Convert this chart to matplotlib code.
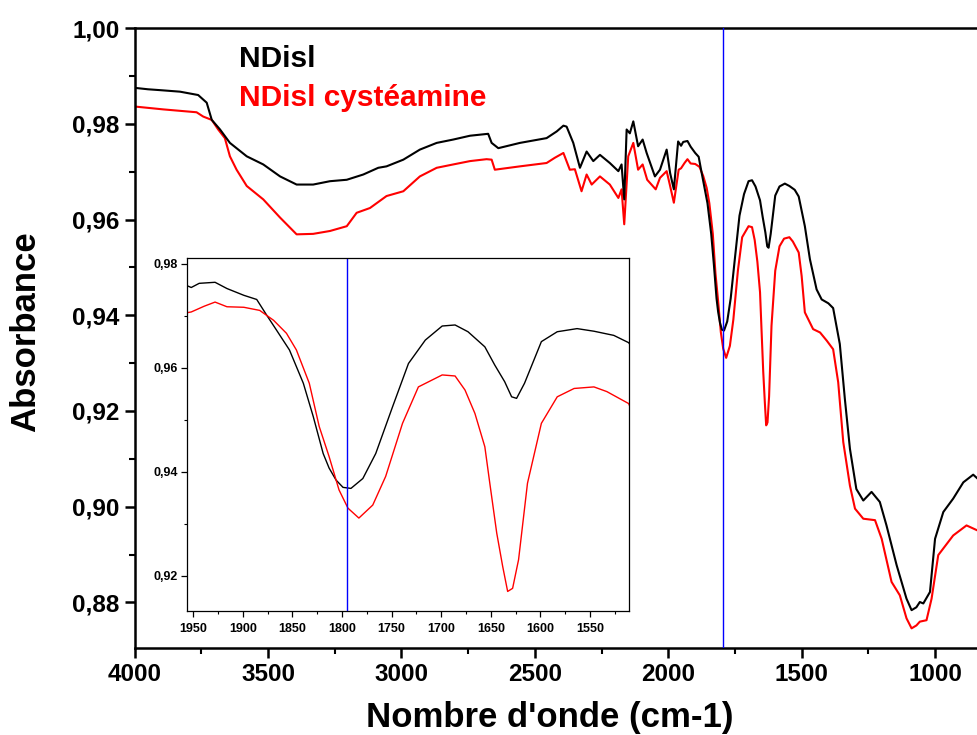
import matplotlib
matplotlib.use("Agg")
import matplotlib.pyplot as plt
from matplotlib.ticker import MultipleLocator, FuncFormatter
import numpy as np

# ---- data ----
wn_black = [4000, 3950, 3900, 3830, 3762, 3730, 3711, 3680, 3643, 3580, 3518, 3455,
            3393, 3331, 3268, 3205, 3143, 3087, 3056, 2993, 2931, 2868, 2806, 2743,
            2675, 2662, 2637, 2556, 2456, 2418, 2393, 2381, 2356, 2331, 2306, 2281,
            2256, 2219, 2187, 2175, 2165, 2156, 2144, 2131, 2113, 2096, 2081, 2050,
            2031, 2006, 1993, 1979, 1963,
            1952, 1944, 1928, 1916, 1899, 1886, 1876, 1866, 1853, 1839, 1829, 1819,
            1813, 1806, 1799, 1791, 1779, 1766, 1749, 1733, 1716, 1699, 1686, 1673,
            1656, 1646, 1636, 1629, 1624, 1616, 1599, 1583, 1563, 1546, 1526, 1511,
            1488, 1469, 1444, 1425, 1400, 1382, 1357, 1338, 1319, 1295, 1269, 1238,
            1207, 1182, 1144, 1107, 1088, 1070, 1057, 1044, 1019, 1000, 969, 932, 894,
            857, 839]
ab_black = [0.9875, 0.9872, 0.9870, 0.9867, 0.9860, 0.9844, 0.9808, 0.9788, 0.9760,
            0.9732, 0.9715, 0.9690, 0.9673, 0.9673, 0.9680, 0.9683, 0.9694, 0.9708,
            0.9711, 0.9725, 0.9746, 0.9760, 0.9767, 0.9775, 0.9779, 0.9760, 0.9749,
            0.9760, 0.9770, 0.9784, 0.9796, 0.9794, 0.9760, 0.9708, 0.9742, 0.9722,
            0.9735, 0.9718, 0.9701, 0.9715, 0.9642, 0.9788, 0.9780, 0.9805, 0.9753,
            0.9767, 0.9739, 0.9690, 0.9704, 0.9746, 0.9697, 0.9663, 0.9763,
            0.9754, 0.9762, 0.9764, 0.9752, 0.9739, 0.9731, 0.9701, 0.9672, 0.9634,
            0.9570, 0.9506, 0.9435, 0.9407, 0.9384, 0.9370, 0.9368, 0.9387, 0.9435,
            0.9525, 0.9608, 0.9653, 0.9680, 0.9682, 0.9669, 0.9640, 0.9605, 0.9573,
            0.9544, 0.9541, 0.9570, 0.9650, 0.9669, 0.9675, 0.9670, 0.9662, 0.9648,
            0.9586, 0.9517, 0.9454, 0.9433, 0.9425, 0.9415, 0.9340, 0.9225, 0.9121,
            0.9037, 0.9013, 0.9031, 0.9010, 0.8961, 0.8878, 0.8808, 0.8784, 0.8790,
            0.8801, 0.8798, 0.8822, 0.8933, 0.8989, 0.9017, 0.9051, 0.9067, 0.9058]

wn_red = [4000, 3893, 3768, 3743, 3711, 3687, 3662, 3643, 3618, 3580, 3518, 3455,
          3393, 3331, 3268, 3205, 3168, 3118, 3056, 2993, 2931, 2868, 2806, 2743,
          2681, 2662, 2650, 2556, 2456, 2425, 2393, 2369, 2350, 2325, 2306, 2287,
          2256, 2219, 2187, 2175, 2165, 2150, 2131, 2113, 2096, 2079, 2047, 2031,
          2006, 1993, 1979, 1961,
          1952, 1939, 1928, 1916, 1899, 1883, 1869, 1856, 1846, 1833, 1823, 1813,
          1803, 1794, 1783, 1769, 1756, 1739, 1723, 1699, 1686, 1676, 1666, 1656,
          1651, 1644, 1638, 1633, 1628, 1622, 1613, 1599, 1583, 1566, 1546, 1533,
          1511, 1500, 1488, 1457, 1431, 1406, 1382, 1363, 1344, 1319, 1300, 1269,
          1225, 1200, 1163, 1132, 1107, 1088, 1070, 1057, 1032, 1013, 988, 932, 882,
          839]
ab_red = [0.9836, 0.9830, 0.9824, 0.9815, 0.9808, 0.9788, 0.9770, 0.9732, 0.9704,
          0.9670, 0.9642, 0.9604, 0.9569, 0.9570, 0.9576, 0.9586, 0.9614, 0.9624,
          0.9649, 0.9659, 0.9690, 0.9708, 0.9715, 0.9722, 0.9726, 0.9725, 0.9704,
          0.9711, 0.9718, 0.9729, 0.9739, 0.9704, 0.9705, 0.9659, 0.9694, 0.9673,
          0.9690, 0.9673, 0.9645, 0.9663, 0.9590, 0.9732, 0.9760, 0.9704, 0.9715,
          0.9683, 0.9663, 0.9687, 0.9701, 0.9670, 0.9635, 0.9704,
          0.9707, 0.9718, 0.9726, 0.9717, 0.9716, 0.9710, 0.9691, 0.9666, 0.9634,
          0.9570, 0.9487, 0.9429, 0.9365, 0.9330, 0.9311, 0.9336, 0.9391, 0.9493,
          0.9563, 0.9586, 0.9584, 0.9557, 0.9512, 0.9448, 0.9378, 0.9282, 0.9218,
          0.9170, 0.9176, 0.9231, 0.9378, 0.9493, 0.9544, 0.9560, 0.9563, 0.9554,
          0.9531, 0.9482, 0.9406, 0.9371, 0.9364, 0.9347, 0.9329, 0.9260, 0.9135,
          0.9044, 0.8996, 0.8975, 0.8972, 0.8933, 0.8843, 0.8815, 0.8767, 0.8746,
          0.8752, 0.8760, 0.8763, 0.8808, 0.8899, 0.8940, 0.8961, 0.8950]

series_labels = ["NDisl", "NDisl cystéamine"]
marker_wn = 1795

FONT = "Liberation Sans"
plt.rcParams["font.family"] = [FONT, "DejaVu Sans"]

comma = FuncFormatter(lambda v, p: f"{v:.2f}".replace(".", ","))

fig = plt.figure(figsize=(9.78, 7.35), dpi=100)
ax = fig.add_axes([0.1377, 0.1184, 0.8623, 0.8435])
ax.plot(wn_black, ab_black, color="black", lw=1.5, zorder=3)
ax.plot(wn_red, ab_red, color="#ff0000", lw=1.5, zorder=2)
ax.axvline(marker_wn, color="#0000ff", lw=1.0, zorder=4)
ax.set_xlim(4000, 839)
ax.set_ylim(0.8705, 1.0)
ax.xaxis.set_major_locator(MultipleLocator(500))
ax.xaxis.set_minor_locator(MultipleLocator(250))
ax.yaxis.set_major_locator(MultipleLocator(0.02))
ax.yaxis.set_minor_locator(MultipleLocator(0.01))
ax.yaxis.set_major_formatter(comma)
ax.spines["right"].set_visible(False)
for s in ["top", "left", "bottom"]:
    ax.spines[s].set_linewidth(1.8)
ax.tick_params(which="major", direction="out", length=7, width=1.8,
               labelsize=17.5, pad=4)
ax.tick_params(which="minor", direction="out", length=4.5, width=1.5)
ax.tick_params(top=False, right=False, which="both")
for lab in ax.get_xticklabels() + ax.get_yticklabels():
    lab.set_fontweight("bold")
ax.set_xlabel("Nombre d'onde (cm-1)", fontsize=25, fontweight="bold")
ax.xaxis.set_label_coords(0.4925, -0.086)
ax.set_ylabel("Absorbance", fontsize=25, fontweight="bold")
ax.yaxis.set_label_coords(-0.110, 0.5097)

fig.text(239 / 978, 1 - 67 / 735, series_labels[0], color="black",
         fontsize=21.5, fontweight="bold", va="baseline", ha="left")
fig.text(239 / 978, 1 - 106 / 735, series_labels[1], color="#ff0000",
         fontsize=21.5, fontweight="bold", va="baseline", ha="left")

# ---- inset ----
ins = fig.add_axes([0.1915, 0.1691, 0.4513, 0.4794])
ins.set_facecolor("white")
ins.plot(wn_black, ab_black, color="black", lw=1.0)
ins.plot(wn_red, ab_red, color="#ff0000", lw=1.0)
ins.axvline(marker_wn, color="#0000ff", lw=1.0)
ins.set_xlim(1956, 1511)
ins.set_ylim(0.9133, 0.981)
ins.xaxis.set_major_locator(MultipleLocator(50))
ins.xaxis.set_minor_locator(MultipleLocator(25))
ins.yaxis.set_major_locator(MultipleLocator(0.02))
ins.yaxis.set_minor_locator(MultipleLocator(0.01))
ins.yaxis.set_major_formatter(comma)
for s in ins.spines.values():
    s.set_linewidth(0.9)
ins.tick_params(which="major", direction="out", length=4, width=0.9,
                labelsize=9, pad=5)
ins.tick_params(which="minor", direction="out", length=2.5, width=0.8)
ins.tick_params(axis="y", which="major", pad=3)
for lab in ins.get_xticklabels() + ins.get_yticklabels():
    lab.set_fontweight("bold")

fig.savefig("out.png", dpi=100, facecolor="white")
